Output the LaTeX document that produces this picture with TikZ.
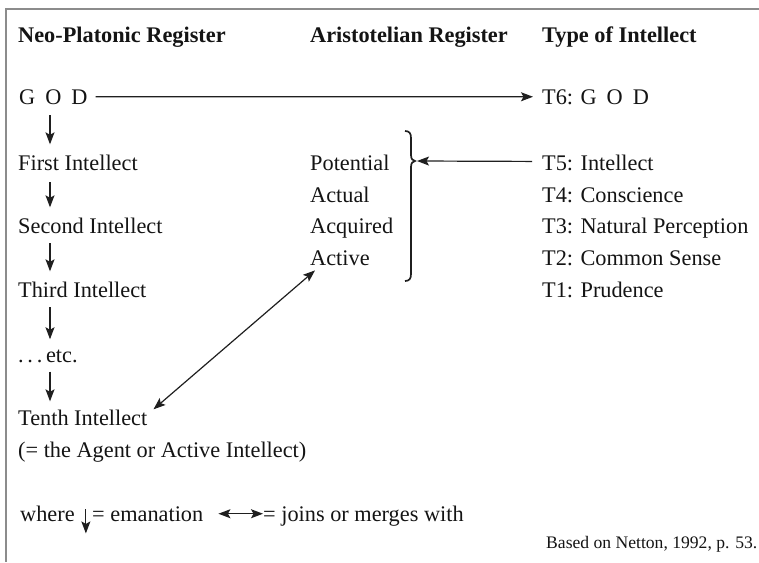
\documentclass[tikz,border=0pt]{standalone}
\usepackage{fontspec}
\setmainfont{Liberation Serif}
\usetikzlibrary{arrows.meta,calc}

\begin{document}
\begin{tikzpicture}[x=1pt,y=-1pt,
  lbl/.style={anchor=base west,inner sep=0pt,text=black!92,font=\fontsize{22.3}{26}\selectfont},
  hdr/.style={lbl,font=\fontsize{22.3}{26}\selectfont\bfseries},
  conn/.style={line width=1.2pt,draw=black!88,-{Stealth[length=12pt,width=9pt,inset=2.5pt]}},
  both/.style={line width=1.2pt,draw=black!88,{Stealth[length=12pt,width=9pt,inset=2.5pt]}-{Stealth[length=12pt,width=9pt,inset=2.5pt]}},
  frame/.style={line width=1.5pt,draw=black!45},
  bracket/.style={line width=1.7pt,draw=black!88}
]
\useasboundingbox (0,0) rectangle (759,562);
\fill[white] (0,0) rectangle (759,562);

% outer frame (top and left edges)
\draw[frame] (759,9) -- (6,9) -- (6,562);

% column headings
\node[hdr] (h1) at (18,42)  {Neo-Platonic Register};
\node[hdr] (h2) at (310,42) {Aristotelian Register};
\node[hdr] (h3) at (542,42) {Type of Intellect};

% Neo-Platonic chain
\node[lbl] (god)    at (19,104) {G\hspace{10pt}O\hspace{10pt}D};
\node[lbl] (first)  at (18,170) {First Intellect};
\node[lbl] (second) at (18,233) {Second Intellect};
\node[lbl] (third)  at (18,297) {Third Intellect};
\node[lbl] (etc)    at (18,362) {.\,.\,.\,etc.};
\node[lbl] (tenth)  at (18,425) {Tenth Intellect};
\node[lbl] (agent)  at (18,457) {(= the Agent or Active Intellect)};

% Aristotelian register
\node[lbl] (potential) at (310,170) {Potential};
\node[lbl] (actual)    at (310,202) {Actual};
\node[lbl] (acquired)  at (310,233) {Acquired};
\node[lbl] (active)    at (310,265) {Active};

% types of intellect
\node[lbl] (t6) at (542,104) {T6: G\hspace{10pt}O\hspace{10pt}D};
\node[lbl] (t5) at (542,170) {T5: Intellect};
\node[lbl] (t4) at (542,202) {T4: Conscience};
\node[lbl] (t3) at (542,233) {T3: Natural Perception};
\node[lbl] (t2) at (542,265) {T2: Common Sense};
\node[lbl] (t1) at (542,297) {T1: Prudence};

% emanation arrows
\draw[conn] ($(god.south west)+(31,11)$)    -- ($(first.north west)+(32,-10)$);
\draw[conn] ($(first.south west)+(32,12)$)  -- ($(second.north west)+(32,-10)$);
\draw[conn] ($(second.south west)+(32,10)$) -- ($(third.north west)+(32,-10)$);
\draw[conn] ($(third.south west)+(32,10)$)  -- ($(etc.north west)+(32,-10)$);
\draw[conn] ($(etc.south west)+(32,9)$)     -- ($(tenth.north west)+(32,-8)$);

% GOD to T6
\draw[conn,shorten <=8pt,shorten >=9pt] (god) -- (t6);

% bracket grouping the Aristotelian intellects
\draw[bracket] (405,131) .. controls (409,131) and (411,133) .. (411,138)
  -- (411,155) .. controls (411,159) and (413,161) .. (415,161)
  .. controls (413,161) and (411,163) .. (411,167)
  -- (411,274) .. controls (411,279) and (409,281) .. (405,281);
\coordinate (bracetip) at (417,161);
\draw[conn] ($(t5.west)+(-10,-1)$) -- (bracetip);

% Tenth Intellect merges with the Active intellect
\draw[both] ($(tenth.north east)+(6,0)$) -- ($(active.south west)+(5,5)$);

% legend
\node[lbl] (where)  at (20,521)  {where};
\node[lbl] (eman)   at (92,521)  {= emanation};
\node[lbl] (joins)  at (263,521) {= joins or merges with};
\draw[conn] ($(where.south east)+(11,-12)$) -- ($(where.south east)+(11,12)$);
\draw[both] ([xshift=15pt]eman.east) -- (eman.east -| joins.west);

% source
\node[lbl,font=\fontsize{17.6}{20}\selectfont] (src) at (546,548) {Based on Netton, 1992, p. 53.};
\end{tikzpicture}
\end{document}
